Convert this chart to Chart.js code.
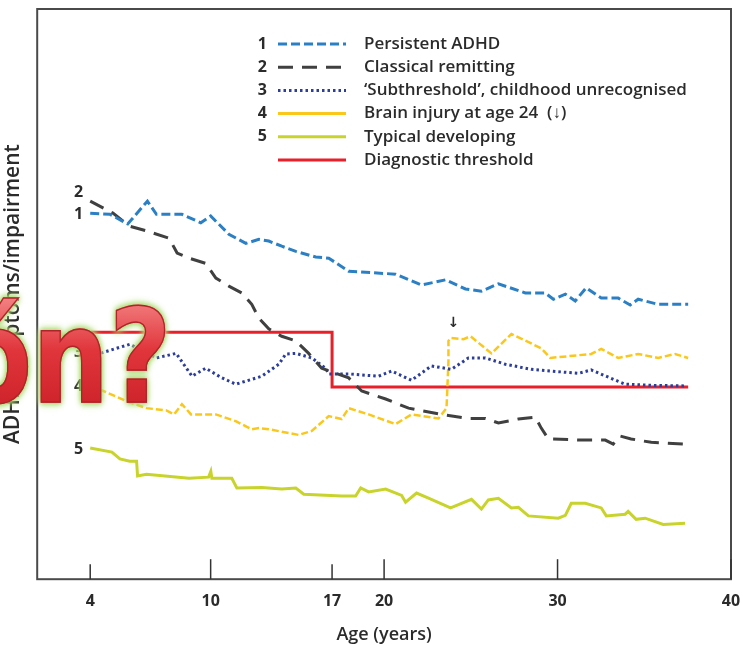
<!DOCTYPE html>
<html>
<head>
<meta charset="utf-8">
<script src="https://cdn.jsdelivr.net/npm/chart.js@4.4.1/dist/chart.umd.min.js"></script>
<style>
  body { margin: 0; background: #fff; }
  #wrap { position: relative; width: 743px; height: 649px; overflow: hidden; }
  #wm {
    position: absolute; left: -42px; top: 292px;
    font: bold 130px "DejaVu Sans", sans-serif; line-height: 130px;
    transform: scaleX(0.83); transform-origin: 0 0;
    background: linear-gradient(180deg, #f58a8a 0%, #e0353b 45%, #c81e25 100%);
    -webkit-background-clip: text; background-clip: text;
    color: transparent;
    -webkit-text-stroke: 1.5px #b0242a;
    filter: drop-shadow(0 0 3px #9bd25a) drop-shadow(0 0 3px #bde48a);
    white-space: nowrap;
  }
</style>
</head>
<body>
<div id="wrap">
  <canvas id="adhd" width="743" height="649"></canvas>
  <div id="wm">ón?</div>
</div>
<script>
// ADHD trajectories over age (arbitrary 0-100 symptom scale)

var xTicks = [4, 10, 17, 20, 30, 40];

var seriesNames = ['Persistent ADHD', 'Classical remitting',
  '\u2018Subthreshold\u2019, childhood unrecognised',
  'Brain injury at age 24  (\u2193)', 'Typical developing', 'Diagnostic threshold'];
var seriesNums = ['1', '2', '3', '4', '5', ''];

// 1 persistent
var persistentAge = [4.0, 4.98, 5.87, 6.85, 7.30, 8.57, 9.51, 10.0, 11.05, 12.03, 12.78, 13.35, 14.10, 14.91, 16.06, 16.81, 17.96, 20.66, 22.16, 23.54, 24.69, 25.61, 26.59, 28.14, 29.29, 29.76, 30.45, 31.02, 31.65, 32.52, 33.50, 34.19, 34.65, 35.80, 37.53];
var persistentVal = [64.2, 64.0, 62.3, 66.3, 64.0, 64.0, 62.5, 63.7, 60.5, 58.9, 59.6, 59.3, 58.4, 57.5, 56.5, 56.3, 54.0, 53.5, 51.6, 52.5, 50.9, 50.5, 51.8, 50.2, 50.2, 49.1, 50.0, 48.8, 51.1, 49.3, 49.3, 48.1, 49.1, 48.2, 48.2];

// 2 classical remitting
var remittingAge = [4.0, 5.13, 5.97, 6.80, 7.93, 8.33, 8.92, 9.75, 10.30, 11.05, 11.80, 12.37, 12.78, 13.35, 14.10, 14.91, 15.65, 16.40, 17.96, 18.71, 20.09, 21.41, 23.31, 24.86, 25.84, 26.59, 27.74, 28.72, 29.06, 29.47, 31.37, 32.75, 33.21, 33.61, 34.24, 35.40, 37.35];
var remittingVal = [66.3, 64.2, 61.9, 61.1, 59.8, 57.2, 56.3, 55.4, 52.8, 51.4, 50.2, 48.2, 45.8, 43.9, 42.6, 41.8, 39.6, 37.0, 35.3, 33.0, 31.6, 30.0, 28.9, 28.2, 28.2, 27.4, 28.1, 28.4, 26.5, 24.6, 24.4, 24.4, 23.7, 25.1, 24.6, 24.0, 23.7];

// 3 subthreshold
var subAge = [4.0, 4.49, 5.97, 7.30, 8.28, 9.07, 9.75, 10.65, 11.45, 12.95, 13.93, 14.33, 14.91, 15.83, 16.63, 16.81, 17.96, 19.68, 20.43, 21.58, 22.73, 23.88, 24.86, 25.84, 26.99, 28.49, 31.19, 31.94, 33.50, 33.90, 35.40, 37.35];
var subVal = [40.0, 39.6, 41.2, 38.8, 39.6, 35.6, 37.0, 35.3, 34.2, 35.6, 37.7, 39.5, 39.6, 38.8, 37.0, 36.0, 36.0, 35.6, 36.5, 34.9, 37.4, 36.8, 38.8, 38.8, 37.7, 36.8, 36.1, 36.7, 34.7, 34.2, 34.0, 33.9];

// 4 brain injury
var injuryAge = [4.0, 4.34, 5.82, 6.80, 7.79, 8.18, 8.57, 9.02, 10.30, 11.45, 12.37, 12.78, 13.35, 15.08, 15.83, 16.81, 17.55, 17.96, 19.11, 20.66, 21.58, 23.14, 23.60, 23.71, 23.71, 23.83, 24.58, 24.98, 26.19, 27.34, 29.06, 29.58, 31.94, 32.52, 33.50, 34.65, 35.80, 36.78, 37.53];
var injuryVal = [33.9, 33.5, 31.2, 30.0, 29.6, 28.9, 30.7, 28.9, 28.9, 27.7, 26.3, 26.5, 26.3, 25.3, 26.0, 28.6, 28.1, 30.0, 28.9, 27.2, 28.9, 28.2, 30.0, 38.2, 41.8, 42.3, 42.1, 42.6, 39.6, 43.0, 40.5, 38.8, 39.5, 40.4, 38.8, 39.5, 38.8, 39.5, 38.8];

// 5 typical
var typicalAge = [4.0, 5.08, 5.48, 5.97, 6.31, 6.36, 6.80, 8.92, 9.90, 10.01, 10.07, 11.22, 11.51, 12.95, 14.10, 14.91, 15.37, 17.55, 18.36, 18.65, 19.11, 20.09, 21.01, 21.24, 21.87, 22.56, 23.83, 25.04, 25.61, 26.01, 26.59, 27.34, 27.74, 28.32, 30.04, 30.45, 30.79, 31.60, 32.52, 32.81, 33.90, 34.07, 34.53, 35.05, 36.09, 37.35];
var typicalVal = [23.0, 22.3, 21.1, 20.7, 20.7, 18.1, 18.4, 17.7, 17.9, 18.9, 17.7, 17.7, 16.0, 16.1, 15.8, 16.0, 14.9, 14.6, 14.6, 16.0, 15.3, 15.8, 14.7, 13.5, 15.1, 14.2, 12.5, 14.0, 12.3, 13.9, 14.2, 12.5, 12.6, 11.1, 10.7, 11.2, 13.3, 13.3, 12.5, 11.1, 11.4, 11.9, 10.5, 10.7, 9.6, 9.8];

// diagnostic threshold (steps down at 17)
var thresholdAge = [4, 17, 37.53];
var thresholdVal = [43.3, 33.7, 33.7];

// age axis of the figure is stretched between 4 and 10
var ageKnots = [0, 4, 10, 40];
var fracKnots = [0, 0.0764, 0.25, 1];
function ageToFrac(a) {
  for (var i = 1; i < ageKnots.length; i++) {
    if (a <= ageKnots[i] || i == ageKnots.length - 1) {
      var t = (a - ageKnots[i-1]) / (ageKnots[i] - ageKnots[i-1]);
      return fracKnots[i-1] + t * (fracKnots[i] - fracKnots[i-1]);
    }
  }
}
function fracToAge(f) {
  for (var i = 1; i < fracKnots.length; i++) {
    if (f <= fracKnots[i] || i == fracKnots.length - 1) {
      var t = (f - fracKnots[i-1]) / (fracKnots[i] - fracKnots[i-1]);
      return ageKnots[i-1] + t * (ageKnots[i] - ageKnots[i-1]);
    }
  }
}
class AgeScale extends Chart.LinearScale {
  getPixelForValue(v) { return this.getPixelForDecimal(ageToFrac(v)); }
  getValueForPixel(p) { return fracToAge(this.getDecimalForPixel(p)); }
}
AgeScale.id = 'age';
AgeScale.defaults = Chart.LinearScale.defaults;
Chart.register(AgeScale);

function pts(xs, ys) { return xs.map(function (x, i) { return {x: x, y: ys[i]}; }); }

var FONT = '"Open Sans", sans-serif';
var TXT = '#2b2b2b';

var frame = {
  id: 'frame',
  afterDraw: function (chart) {
    var c = chart.ctx, a = chart.chartArea, xs = chart.scales.x;
    c.save();
    c.strokeStyle = '#4a4a4a';
    c.lineWidth = 2;
    c.strokeRect(a.left, a.top, a.right - a.left, a.bottom - a.top);
    c.lineWidth = 1.5;
    c.strokeStyle = '#333';
    xs.ticks.forEach(function (t) {
      var px = xs.getPixelForValue(t.value);
      var len = (t.value == 4 || t.value == 17) ? 15 : 20;
      c.beginPath();
      c.moveTo(px, a.bottom);
      c.lineTo(px, a.bottom - len);
      c.stroke();
    });
    c.restore();
  }
};

var lineNums = {
  id: 'lineNums',
  afterDatasetsDraw: function (chart) {
    var c = chart.ctx, xs = chart.scales.x, ys = chart.scales.y;
    c.save();
    c.font = 'bold 16px ' + FONT;
    c.fillStyle = TXT;
    c.textAlign = 'right';
    c.textBaseline = 'middle';
    for (var i = 0; i < 5; i++) {
      var d = chart.data.datasets[i].data[0];
      var off = i == 1 ? -9 : 1;
      c.fillText(seriesNums[i], xs.getPixelForValue(d.x) - 7, ys.getPixelForValue(d.y) + off);
    }
    // arrow marking the injury
    c.font = 'bold 14px "DejaVu Sans", sans-serif';
    c.textAlign = 'center';
    c.fillText('\u2193', xs.getPixelForValue(24), ys.getPixelForValue(42.3) - 15);
    c.restore();
  }
};

var legendBox = {
  id: 'legendBox',
  afterDraw: function (chart) {
    var c = chart.ctx;
    c.save();
    c.textBaseline = 'middle';
    chart.data.datasets.forEach(function (ds, i) {
      var y = 44 + i * 23.2;
      c.fillStyle = TXT;
      c.font = 'bold 16px ' + FONT;
      c.textAlign = 'right';
      c.fillText(seriesNums[i], 267, y);
      c.beginPath();
      c.strokeStyle = ds.borderColor;
      c.lineWidth = 3;
      c.setLineDash(i == 3 ? [] : (ds.borderDash || []));
      c.moveTo(278, y);
      c.lineTo(346, y);
      c.stroke();
      c.setLineDash([]);
      c.font = '600 17px ' + FONT;
      c.textAlign = 'left';
      c.fillText(seriesNames[i], 364, y);
    });
    c.restore();
  }
};

const ctx = document.getElementById('adhd');
var adhdChart = new Chart(ctx, {
  type: 'line',
  data: {
    datasets: [
      { label: seriesNames[0], data: pts(persistentAge, persistentVal), borderColor: '#2b80c5', borderWidth: 3, borderDash: [9, 4] },
      { label: seriesNames[1], data: pts(remittingAge, remittingVal), borderColor: '#404040', borderWidth: 3, borderDash: [15, 9] },
      { label: seriesNames[2], data: pts(subAge, subVal), borderColor: '#2c3d9c', borderWidth: 3, borderDash: [2.5, 3] },
      { label: seriesNames[3], data: pts(injuryAge, injuryVal), borderColor: '#fac81c', borderWidth: 2.5, borderDash: [7, 3] },
      { label: seriesNames[4], data: pts(typicalAge, typicalVal), borderColor: '#c8d42c', borderWidth: 3 },
      { label: seriesNames[5], data: pts(thresholdAge, thresholdVal), borderColor: '#e8202a', borderWidth: 3, stepped: 'before', order: 10 }
    ]
  },
  options: {
    responsive: false,
    animation: false,
    layout: { padding: { top: 9, right: 12, left: 0, bottom: 1 } },
    elements: { point: { radius: 0 }, line: { tension: 0, fill: false } },
    plugins: { legend: { display: false }, tooltip: { enabled: false } },
    scales: {
      x: {
        type: 'age', min: 0, max: 40,
        afterBuildTicks: function (s) { s.ticks = xTicks.map(function (v) { return {value: v}; }); },
        afterFit: function (s) { s.paddingLeft = 0; s.paddingRight = 0; },
        grid: { display: false, drawTicks: false }, border: { display: false },
        ticks: { autoSkip: false, maxRotation: 0, padding: 13, color: TXT, font: { family: FONT, size: 16, weight: 'bold' } },
        title: { display: true, text: 'Age (years)', color: TXT, font: { family: FONT, size: 18, weight: '600' }, padding: { top: 0, bottom: 2 } }
      },
      y: {
        min: 0, max: 100,
        grid: { display: false, drawTicks: false }, border: { display: false },
        ticks: { display: false },
        title: { display: true, text: 'ADHD symptoms/impairment', color: TXT, font: { family: FONT, size: 21, weight: '600' }, padding: { top: 0, bottom: 12 } }
      }
    }
  },
  plugins: [frame, lineNums, legendBox]
});
</script>
</body>
</html>
